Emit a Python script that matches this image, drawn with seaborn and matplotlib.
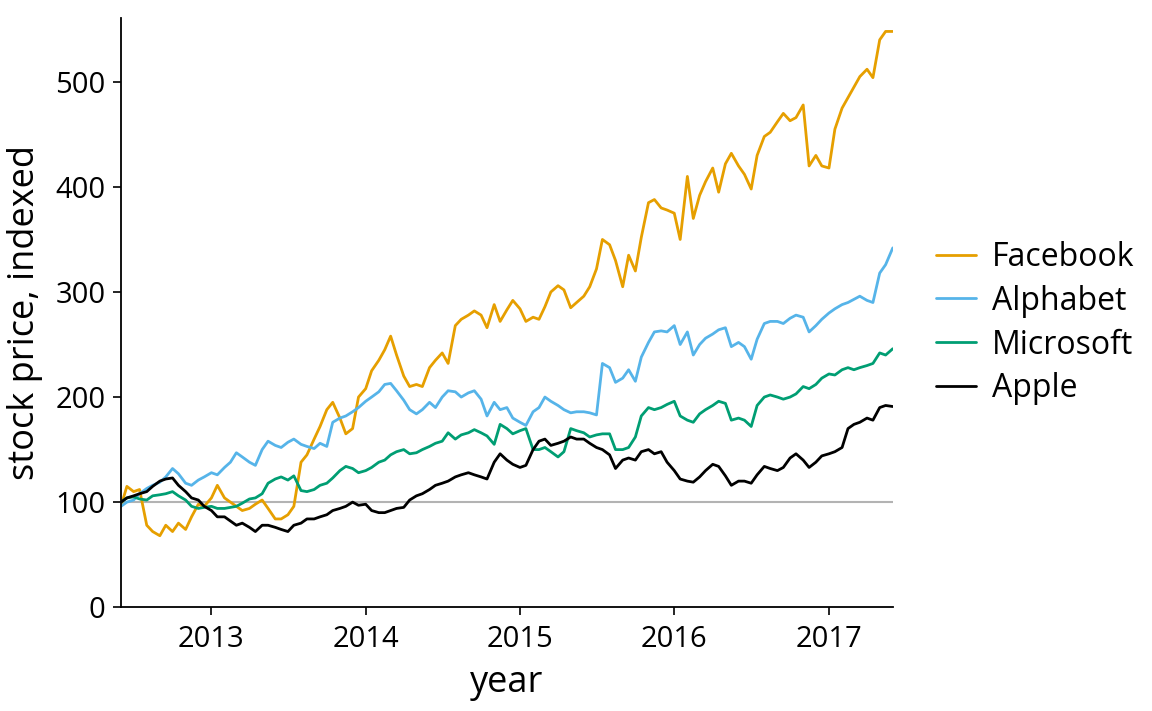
import pandas as pd
import matplotlib.pyplot as plt
import matplotlib.dates as mdates
import seaborn as sns

# semimonthly samples (1st and 16th of each month), Jun 2012 - Jun 2017
dates = pd.date_range('2012-06-01', '2017-06-01', freq='SMS')

facebook = [96, 115, 110, 112, 78, 72, 68, 78, 72, 80, 74, 86, 98, 96,
            104, 116, 104, 100, 96, 92, 94, 98, 102, 94, 84, 84, 88, 96,
            138, 145, 160, 172, 188, 195, 180, 165, 170, 200,
            208, 225, 235, 245, 258, 240, 220, 210, 212, 210, 228, 235, 242, 232,
            268, 274, 278, 282, 278, 266, 288, 272, 283, 292,
            284, 272, 276, 274, 286, 300, 306, 302, 285, 290, 296, 305,
            322, 350, 345, 330, 305, 335, 320, 352, 385, 388, 380, 378,
            375, 350, 410, 370, 392, 405, 418, 395, 422, 432, 420, 412,
            398, 430, 448, 452, 462, 470, 463, 466, 478, 420, 430, 420,
            418, 455, 475, 485, 495, 505, 512, 504, 540, 548, 548]

alphabet = [96, 100, 102, 108, 113, 116, 119, 124, 132, 127, 118, 116, 121, 124,
            128, 126, 133, 138, 147, 143, 138, 135, 150, 158, 154, 152, 157, 160,
            155, 153, 151, 156, 153, 176, 180, 182, 186, 190,
            196, 200, 205, 212, 213, 206, 197, 188, 184, 188, 195, 190, 200, 206,
            205, 200, 204, 206, 198, 182, 195, 188, 190, 180,
            176, 173, 186, 190, 200, 196, 192, 188, 185, 186, 186, 185,
            183, 232, 228, 214, 218, 226, 215, 238, 252, 262, 263, 262,
            268, 250, 262, 240, 250, 256, 260, 264, 266, 248, 252, 248,
            236, 255, 270, 272, 272, 270, 275, 278, 276, 262, 268, 274,
            280, 284, 288, 290, 293, 296, 292, 290, 318, 326, 342]

microsoft = [100, 104, 105, 103, 102, 106, 107, 108, 110, 106, 102, 96, 94, 95,
             96, 94, 94, 95, 96, 99, 103, 104, 108, 118, 122, 124, 121, 125,
             111, 110, 112, 116, 118, 123, 130, 134, 132, 128,
             130, 133, 138, 140, 145, 148, 150, 146, 147, 150, 153, 156, 158, 166,
             160, 164, 166, 169, 166, 163, 155, 174, 170, 165,
             168, 170, 150, 150, 152, 148, 143, 148, 170, 168, 166, 162,
             164, 165, 165, 150, 150, 152, 162, 182, 190, 188, 190, 193,
             196, 182, 178, 176, 184, 188, 192, 196, 194, 178, 180, 178,
             172, 192, 200, 202, 200, 198, 200, 203, 210, 208, 212, 218,
             222, 221, 226, 228, 226, 228, 230, 232, 242, 240, 246]

apple = [100, 104, 106, 108, 110, 115, 120, 122, 123, 116, 110, 104, 102, 96,
         92, 86, 86, 82, 78, 80, 76, 72, 78, 78, 76, 74, 72, 78,
         80, 84, 84, 86, 88, 92, 94, 96, 100, 97,
         98, 92, 90, 90, 92, 94, 95, 102, 106, 108, 112, 116, 118, 120,
         124, 126, 128, 126, 124, 122, 138, 146, 140, 136,
         133, 135, 150, 158, 160, 154, 156, 158, 162, 160, 160, 156,
         152, 150, 145, 132, 140, 142, 140, 148, 150, 146, 148, 138,
         130, 122, 120, 119, 124, 130, 136, 134, 125, 116, 120, 120,
         118, 126, 134, 132, 130, 133, 142, 146, 140, 133, 138, 144,
         146, 148, 152, 170, 174, 176, 180, 178, 190, 192, 191]

companies = ['Facebook', 'Alphabet', 'Microsoft', 'Apple']
colors = ['#E69F00', '#56B4E9', '#009E73', '#000000']

df = pd.concat([
    pd.DataFrame({'date': dates, 'price': vals, 'company': name})
    for name, vals in zip(companies, [facebook, alphabet, microsoft, apple])
])

sns.set_theme(style='ticks')
plt.rcParams['font.family'] = ['Open Sans', 'DejaVu Sans']
plt.rcParams.update({'text.color': 'black', 'axes.labelcolor': 'black',
                     'xtick.color': 'black', 'ytick.color': 'black'})

fig = plt.figure(figsize=(11.52, 7.11), dpi=100)
ax = fig.add_axes([0.105, 0.146, 0.67, 0.829])

ax.axhline(100, color='#b3b3b3', lw=1.5, zorder=1)
sns.lineplot(data=df, x='date', y='price', hue='company', hue_order=companies,
             palette=dict(zip(companies, colors)), lw=2.0, ax=ax, zorder=2)

ax.set_xlim(pd.Timestamp('2012-06-01'), pd.Timestamp('2017-06-01'))
ax.set_ylim(0, 561)
ax.set_yticks([0, 100, 200, 300, 400, 500])
ax.xaxis.set_major_locator(mdates.YearLocator())
ax.xaxis.set_major_formatter(mdates.DateFormatter('%Y'))
ax.tick_params(labelsize=21, width=1.2, length=6, pad=5)
ax.tick_params(axis='x', pad=7)
ax.set_xlabel('year', fontsize=26, labelpad=8)
ax.set_ylabel('stock price, indexed', fontsize=26, labelpad=9)
for s in ['left', 'bottom']:
    ax.spines[s].set_linewidth(1.3)
    ax.spines[s].set_color('black')
sns.despine(ax=ax)

ax.legend(title=None, frameon=False, fontsize=23, loc='center left',
          bbox_to_anchor=(1.035, 0.482), borderpad=0, handlelength=1.25,
          labelspacing=0.34, handletextpad=0.5)

plt.savefig('out.png', dpi=100)
